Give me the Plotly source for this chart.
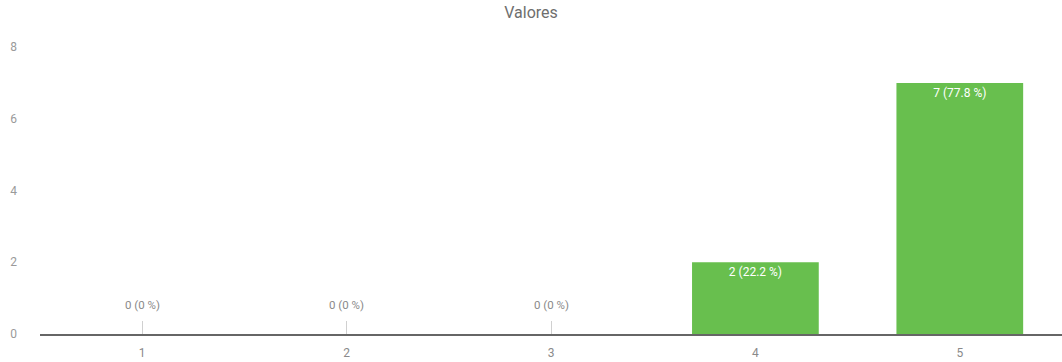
import plotly.graph_objects as go

categories = ["1", "2", "3", "4", "5"]
counts = [0, 0, 0, 2, 7]
percents = ["0 %", "0 %", "0 %", "22.2 %", "77.8 %"]
labels = [f"{c} ({p})" for c, p in zip(counts, percents)]

green = "#68bf4e"
font_family = "Roboto, Arial, sans-serif"

bar_text = [lab if c > 0 else "" for lab, c in zip(labels, counts)]

fig = go.Figure()
fig.add_trace(go.Bar(
    x=categories, y=counts,
    marker=dict(color=green, line=dict(width=0)),
    width=0.62,
    text=bar_text,
    textposition="inside",
    insidetextanchor="end",
    textangle=0,
    textfont=dict(color="white", size=12, family=font_family),
    cliponaxis=False,
    hoverinfo="skip",
))

for i, (c, lab) in enumerate(zip(counts, labels)):
    if c == 0:
        fig.add_annotation(x=i, y=c, text=lab, showarrow=False,
                           yanchor="bottom", yshift=20,
                           font=dict(color="#8a8a8a", size=11.5, family=font_family))

fig.update_layout(
    width=1062, height=362,
    margin=dict(l=40, r=0, t=47, b=28),
    paper_bgcolor="white", plot_bgcolor="white",
    showlegend=False,
    title=dict(text="Valores", x=0.5, xanchor="center", y=1 - 12 / 362, yanchor="middle",
               yref="container",
               font=dict(size=16, color="#6e6e6e", family=font_family)),
)
fig.update_xaxes(
    type="category",
    showline=True, linecolor="#666666", linewidth=1.5,
    ticks="inside", ticklen=13, tickcolor="#d0d0d0", tickwidth=1,
    layer="below traces",
    showgrid=False, zeroline=False,
    tickfont=dict(size=12, color="#8a8a8a", family=font_family),
    ticklabelstandoff=7,
)
fig.update_yaxes(
    range=[0, 8], tickvals=[0, 2, 4, 6, 8],
    showgrid=False, zeroline=False, showline=False,
    tickfont=dict(size=12, color="#9a9a9a", family=font_family),
    ticklabelstandoff=22,
)

fig.write_html("out.html",
               config={"displayModeBar": False},
               post_script="document.body.style.margin='0';document.body.style.overflow='hidden';")
